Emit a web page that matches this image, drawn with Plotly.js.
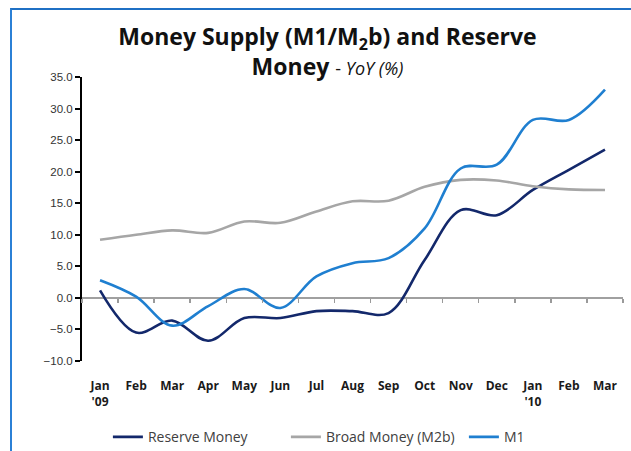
<!DOCTYPE html>
<html>
<head>
<meta charset="utf-8">
<script src="https://cdn.plot.ly/plotly-3.0.1.min.js"></script>
<style>
  html, body { margin: 0; padding: 0; background: #fff; }
  #wrap { position: relative; width: 631px; height: 451px; overflow: hidden; }
  #chart { width: 631px; height: 451px; }
  #frame { position: absolute; left: 10px; top: 8px; right: -4px; bottom: -4px;
           border-left: 2px solid #2b80d6; border-top: 2px solid #1f70c4; pointer-events: none; }
</style>
</head>
<body>
<div id="wrap">
  <div id="chart"></div>
  <div id="frame"></div>
</div>
<script>
const months = ["Jan", "Feb", "Mar", "Apr", "May", "Jun", "Jul", "Aug", "Sep", "Oct", "Nov", "Dec", "Jan", "Feb", "Mar"];
const yearTags = ["'09", "", "", "", "", "", "", "", "", "", "", "", "'10", "", ""];
const reserveMoney = [1.2, -5.5, -3.6, -6.8, -3.2, -3.2, -2.1, -2.1, -2.4, 6.0, 13.9, 13.1, 17.1, 20.3, 23.5];
const broadMoney = [9.2, 10.0, 10.7, 10.3, 12.1, 11.9, 13.7, 15.3, 15.4, 17.6, 18.7, 18.6, 17.7, 17.2, 17.1];
const m1 = [2.8, 0.2, -4.4, -1.3, 1.4, -1.6, 3.4, 5.5, 6.3, 11.0, 20.5, 21.1, 28.2, 28.2, 33.0];

const idx = months.map((m, i) => i);
const tickText = months.map((m, i) => yearTags[i] ? m + "<br>" + yearTags[i] : m);
const boundaries = [-0.5].concat(idx.map(i => i + 0.5));

const lineBase = { type: "scatter", mode: "lines", x: idx, hoverinfo: "skip" };
const traces = [
  Object.assign({}, lineBase, { name: "Reserve Money", y: reserveMoney,
    line: { color: "#13286b", width: 2.6, shape: "spline", smoothing: 1 } }),
  Object.assign({}, lineBase, { name: "Broad Money (M2b)", y: broadMoney,
    line: { color: "#a6a6a6", width: 2.6, shape: "spline", smoothing: 1 } }),
  Object.assign({}, lineBase, { name: "M1", y: m1,
    line: { color: "#1f7fd0", width: 2.6, shape: "spline", smoothing: 1 } }),
  { type: "scatter", mode: "lines", x: [], y: [], xaxis: "x2", showlegend: false, hoverinfo: "skip" }
];

const yMin = -10, yMax = 35;
const layout = {
  width: 631, height: 451,
  margin: { l: 82, r: 8, t: 77, b: 90, autoexpand: false },
  paper_bgcolor: "#ffffff", plot_bgcolor: "#ffffff",
  showlegend: true,
  title: {
    text: "<b>Money Supply (M1/M<sub>2</sub>b) and Reserve<br>Money</b> <span style='font-size:18px'>- <i>YoY (%)</i></span>",
    font: { family: "'Open Sans', sans-serif", size: 23, color: "#111111" },
    x: 0.519, xanchor: "center", y: 0.9, yanchor: "top"
  },
  xaxis: {
    type: "linear", range: [-0.5, 14.5],
    tickvals: idx, ticktext: tickText,
    ticks: "outside", ticklen: 14, tickcolor: "rgba(0,0,0,0)",
    showgrid: false, zeroline: false, showline: false,
    tickfont: { family: "'Open Sans', sans-serif", size: 12, color: "#1a1a1a", weight: "bold" }
  },
  xaxis2: {
    type: "linear", range: [-0.5, 14.5], overlaying: "x", anchor: "free",
    position: (0 - yMin) / (yMax - yMin), side: "bottom",
    tickvals: boundaries, showticklabels: false,
    ticks: "outside", ticklen: 4, tickwidth: 1.5, tickcolor: "#9a9a9a",
    showgrid: false, zeroline: false, showline: false
  },
  yaxis: {
    range: [yMin, yMax], dtick: 5, tick0: 0, tickformat: ".1f",
    ticks: "outside", ticklen: 5, tickwidth: 2, tickcolor: "#000000",
    showline: true, linecolor: "#000000", linewidth: 2,
    showgrid: false, zeroline: true, zerolinecolor: "#a0a0a0", zerolinewidth: 1.5,
    tickfont: { family: "'Liberation Sans', Arial, sans-serif", size: 11.5, color: "#333333" }
  },
  legend: {
    orientation: "h", xref: "container", yref: "container",
    x: 0.171, xanchor: "left", y: 0.066, yanchor: "top",
    font: { family: "'Open Sans', sans-serif", size: 14, color: "#404040" },
    itemwidth: 30, tracegroupgap: 0, bgcolor: "rgba(0,0,0,0)",
    entrywidth: 133, entrywidthmode: "pixels"
  }
};

Plotly.newPlot("chart", traces, layout, { staticPlot: true, displayModeBar: false });
</script>
</body>
</html>
